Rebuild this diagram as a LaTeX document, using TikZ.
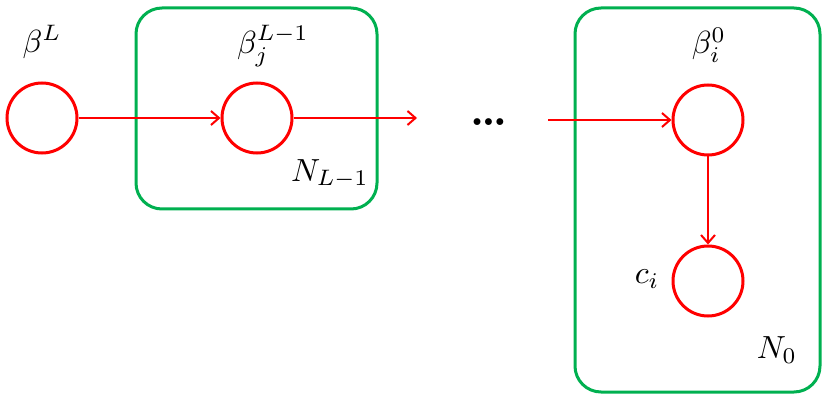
\documentclass[tikz,border=0pt]{standalone}
\usetikzlibrary{arrows.meta}
\definecolor{plategreen}{RGB}{0,176,80}
\definecolor{nodered}{RGB}{255,0,0}
\begin{document}
\begin{tikzpicture}[x=1pt,y=-1pt,
  var/.style={circle,draw=nodered,line width=3pt,minimum size=70pt,inner sep=0pt},
  plate/.style={draw=plategreen,line width=3pt,rounded corners=26pt},
  edge/.style={draw=nodered,line width=2pt,-{Straight Barb[length=8pt,width=14pt,line width=2pt]}},
  lbl/.style={scale=3.2,inner sep=0pt}]
\useasboundingbox (0,0) rectangle (831,401);
\draw[plate] (136,8) rectangle (377,209);
\draw[plate] (575,8) rectangle (820,392);
\node[var] (bL) at (42,118) {};
\node[var] (bj) at (257,118) {};
\node[var] (bi) at (708,120) {};
\node[var] (c) at (708,281) {};
\coordinate (e1) at (417,118);
\coordinate (s2) at (548,120);
\draw[edge] (bL) -- (bj);
\draw[edge] (bj) -- (e1);
\draw[edge] (s2) -- (bi);
\draw[edge] (bi) -- (c);
\node[scale=4.4,inner sep=0pt,font=\bfseries] (dots) at (489,122) {\ldots};
\node[lbl] (tbL) at (42,42) {$\beta^L$};
\node[lbl] (tbj) at (273,46) {$\beta_j^{L-1}$};
\node[lbl] (tNL) at (330,174) {$N_{L-1}$};
\node[lbl] (tbi) at (709,45) {$\beta_i^0$};
\node[lbl] (tc) at (647,279) {$c_i$};
\node[lbl] (tN0) at (777,350) {$N_0$};
\end{tikzpicture}
\end{document}
